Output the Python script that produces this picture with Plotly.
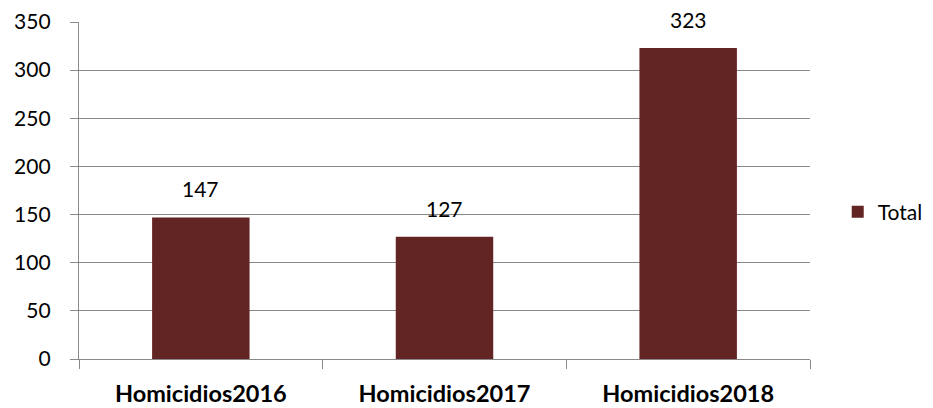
import plotly.graph_objects as go

categories = ["Homicidios2016", "Homicidios2017", "Homicidios2018"]
values = [147, 127, 323]
series_name = "Total"
y_ticks = [0, 50, 100, 150, 200, 250, 300, 350]

bar_color = "#632523"
grid_color = "#888888"
font_family = "Lato, Open Sans, sans-serif"

fig = go.Figure()
fig.add_trace(go.Bar(
    x=categories, y=values, name=series_name,
    marker=dict(color=bar_color, line=dict(width=0)),
    showlegend=True,
))

for c, v in zip(categories, values):
    fig.add_annotation(x=c, y=v, text=str(v), showarrow=False,
                       yanchor="bottom", yshift=14,
                       font=dict(family=font_family, size=21, color="#000000"))

# page body has an 8px margin; compensate so the plot lands where the reference is
fig.update_layout(
    width=925, height=400,
    margin=dict(l=71, r=123, t=14, b=49, autoexpand=False),
    paper_bgcolor="white", plot_bgcolor="white",
    bargap=0.6,
    font=dict(family=font_family, color="#000000"),
    legend=dict(xref="container", x=0.897, y=0.49, xanchor="left", yanchor="middle",
                yref="container",
                font=dict(family=font_family, size=21, color="#000000"),
                itemwidth=30),
)
fig.update_yaxes(
    range=[0, 350], tickvals=y_ticks,
    showgrid=True, gridcolor=grid_color, gridwidth=1.3,
    showline=True, linecolor=grid_color, linewidth=1.3,
    ticks="outside", ticklen=8, tickcolor=grid_color, tickwidth=1.3,
    tickfont=dict(family=font_family, size=21, color="#000000"),
    ticklabelstandoff=15,
    zeroline=False,
)
fig.update_xaxes(
    showline=True, linecolor=grid_color, linewidth=1.3,
    ticks="outside", ticklen=9, tickcolor=grid_color, tickwidth=1.3,
    tickson="boundaries",
    tickfont=dict(family=font_family, size=23.5, color="#000000", weight="bold"),
    ticklabelstandoff=14,
    showgrid=False,
)

fig.write_html("out.html")
